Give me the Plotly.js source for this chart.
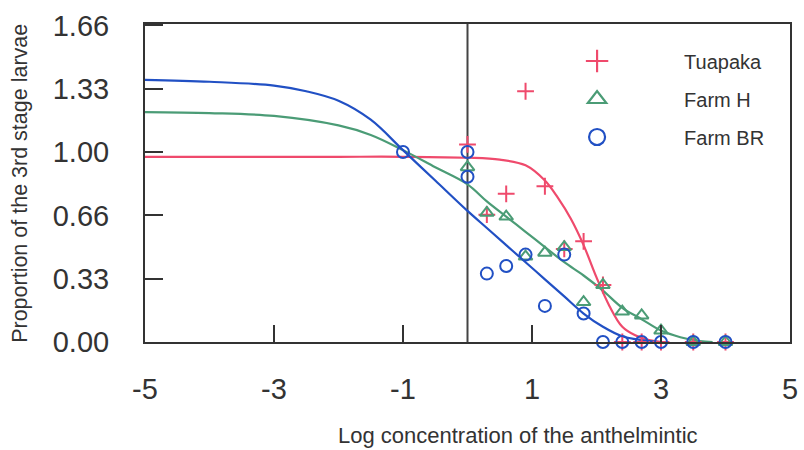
<!DOCTYPE html>
<html>
<head>
<meta charset="utf-8">
<script src="https://cdn.plot.ly/plotly-3.0.1.min.js"></script>
<style>html,body{margin:0;padding:0;background:#fff;}#chart{width:804px;height:450px;}</style>
</head>
<body>
<div id="chart"></div>
<script>
// Observed data points
const tuapakaX = [0, 0.3, 0.6, 0.9, 1.2, 1.5, 1.8, 2.1, 2.4, 2.7, 3.0, 3.5, 4.0];
const tuapakaY = [1.04, 0.67, 0.78, 1.32, 0.82, 0.49, 0.53, 0.30, 0, 0, 0, 0, 0];

const farmHX = [0, 0.3, 0.6, 0.9, 1.2, 1.5, 1.8, 2.1, 2.4, 2.7, 3.0, 3.5, 4.0];
const farmHY = [0.92, 0.68, 0.66, 0.45, 0.47, 0.50, 0.21, 0.30, 0.16, 0.14, 0.06, 0, 0];

const farmBRX = [-1, 0, 0, 0.3, 0.6, 0.9, 1.2, 1.5, 1.8, 2.1, 2.4, 2.7, 3.0, 3.5, 4.0];
const farmBRY = [1.0, 1.0, 0.87, 0.36, 0.40, 0.46, 0.19, 0.46, 0.15, 0, 0, 0, 0, 0, 0];

// Fitted curves
const tuapakaFitX = [-5, -4, -3, -2, -1, 0, 0.5, 0.9, 1.2, 1.4, 1.6, 1.8, 2.0, 2.2, 2.4, 2.6, 2.8, 3.0];
const tuapakaFitY = [0.975, 0.975, 0.975, 0.975, 0.975, 0.97, 0.96, 0.93, 0.85, 0.76, 0.65, 0.51, 0.34, 0.19, 0.08, 0.035, 0.012, 0.0];

const farmHFitX = [-5, -4, -3, -2, -1.5, -1, -0.5, 0, 0.3, 0.6, 0.9, 1.2, 1.5, 1.8, 2.1, 2.4, 2.7, 3.0, 3.3, 3.6, 3.8];
const farmHFitY = [1.21, 1.205, 1.19, 1.14, 1.09, 1.01, 0.92, 0.83, 0.74, 0.66, 0.58, 0.50, 0.42, 0.35, 0.27, 0.18, 0.12, 0.06, 0.025, 0.005, 0.0];

const farmBRFitX = [-5, -4, -3, -2.5, -2, -1.5, -1, -0.5, 0, 0.3, 0.6, 0.9, 1.2, 1.5, 1.8, 2.1, 2.4, 2.7, 3.0];
const farmBRFitY = [1.38, 1.37, 1.35, 1.32, 1.27, 1.17, 1.01, 0.85, 0.69, 0.60, 0.51, 0.42, 0.33, 0.24, 0.15, 0.08, 0.03, 0.01, 0.0];

const seriesNames = ['Tuapaka', 'Farm H', 'Farm BR'];
const xTickVals = [-5, -3, -1, 1, 3, 5];
const yTickVals = [0, 1/3, 2/3, 1, 4/3, 5/3];
const yTickText = ['0.00', '0.33', '0.66', '1.00', '1.33', '1.66'];

const RED = '#ef4a6c', GREEN = '#4b9c76', BLUE = '#2150c4';
const FONT = 'Liberation Sans, Arial, sans-serif';
const SYMBOLS = ['cross-thin-open', 'triangle-up-open', 'circle-open'];
const COLORS = [RED, GREEN, BLUE];

const traces = [
  {x: tuapakaFitX, y: tuapakaFitY, mode: 'lines', line: {color: RED, width: 2.2, shape: 'spline'}, showlegend: false, hoverinfo: 'skip'},
  {x: farmHFitX, y: farmHFitY, mode: 'lines', line: {color: GREEN, width: 2.2, shape: 'spline'}, showlegend: false, hoverinfo: 'skip'},
  {x: farmBRFitX, y: farmBRFitY, mode: 'lines', line: {color: BLUE, width: 2.2, shape: 'spline'}, showlegend: false, hoverinfo: 'skip'}
];
const pts = [[tuapakaX, tuapakaY], [farmHX, farmHY], [farmBRX, farmBRY]];
pts.forEach(function (p, i) {
  traces.push({x: p[0], y: p[1], name: seriesNames[i], mode: 'markers', cliponaxis: false, showlegend: false,
    marker: {symbol: SYMBOLS[i], size: 12, color: COLORS[i], line: {color: COLORS[i], width: 2}}});
});
// legend entries (larger symbols, no data)
seriesNames.forEach(function (n, i) {
  traces.push({x: [null], y: [null], name: n, legendgroup: 'g' + i, mode: 'markers', showlegend: true,
    marker: {symbol: SYMBOLS[i], size: 16, color: COLORS[i], line: {color: COLORS[i], width: 2.2}}});
});

const layout = {
  width: 804, height: 450,
  margin: {l: 145, r: 14, t: 24, b: 108},
  paper_bgcolor: '#fff', plot_bgcolor: '#fff',
  font: {family: FONT, color: '#333'},
  showlegend: true,
  legend: {x: 0.566, y: 0.945, xanchor: 'left', yanchor: 'top', bgcolor: 'rgba(0,0,0,0)',
           font: {family: FONT, size: 20, color: '#333'}, itemwidth: 164, tracegroupgap: 9},
  xaxis: {range: [-5, 5], tickvals: xTickVals, ticktext: xTickVals.map(String), ticks: 'inside', ticklen: 17, tickwidth: 2,
          tickcolor: '#333', showline: true, linecolor: '#333', linewidth: 2, mirror: true, showgrid: false, zeroline: false,
          tickfont: {family: FONT, size: 29, color: '#333'}, ticklabelstandoff: 20},
  yaxis: {range: [0, 1.674], tickvals: yTickVals, ticktext: yTickText, ticks: 'inside', ticklen: 18, tickwidth: 2,
          tickcolor: '#333', showline: true, linecolor: '#333', linewidth: 2, mirror: true, showgrid: false, zeroline: false,
          tickfont: {family: FONT, size: 29, color: '#333'}, ticklabelstandoff: 28},
  shapes: [{type: 'line', xref: 'x', yref: 'paper', x0: 0, x1: 0, y0: 0, y1: 1, line: {color: '#444', width: 2}, layer: 'below'}],
  annotations: [
    {text: 'Log concentration of the anthelmintic', xref: 'paper', yref: 'paper', x: 0.578, y: -0.295, xanchor: 'center', yanchor: 'middle',
     showarrow: false, font: {family: FONT, size: 22, color: '#333'}},
    {text: 'Proportion of the 3rd stage larvae', xref: 'paper', yref: 'paper', x: -0.194, y: 0.5, xanchor: 'center', yanchor: 'middle',
     textangle: -90, showarrow: false, font: {family: FONT, size: 21.5, color: '#333'}}
  ]
};

Plotly.newPlot('chart', traces, layout, {displayModeBar: false, staticPlot: true});
</script>
</body>
</html>
